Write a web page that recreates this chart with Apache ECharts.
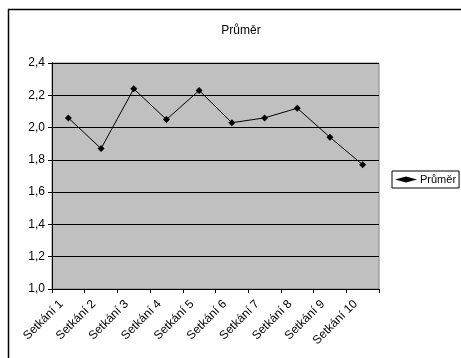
<!DOCTYPE html>
<html>
<head>
<meta charset="utf-8">
<script src="https://cdn.jsdelivr.net/npm/echarts@6/dist/echarts.min.js"></script>
<style>
  html, body { margin: 0; padding: 0; background: #fff; }
  #chart { width: 461px; height: 358px; }
</style>
</head>
<body>
<div id="chart"></div>
<script>
// Average rating per meeting
const categories = ['Setkání 1', 'Setkání 2', 'Setkání 3', 'Setkání 4', 'Setkání 5',
                    'Setkání 6', 'Setkání 7', 'Setkání 8', 'Setkání 9', 'Setkání 10'];
const averages = [2.06, 1.87, 2.24, 2.05, 2.23, 2.03, 2.06, 2.12, 1.94, 1.77];
const seriesName = 'Průměr';
const yMin = 1.0;
const yMax = 2.4;
const yStep = 0.2;

const FONT = 'Liberation Sans, Arial, sans-serif';
const chart = echarts.init(document.getElementById('chart'), null, { renderer: 'canvas' });

chart.setOption({
  animation: false,
  backgroundColor: '#ffffff',
  title: {
    text: seriesName,
    left: 236,
    top: 20,
    textAlign: 'center',
    textStyle: { fontFamily: FONT, fontSize: 12, fontWeight: 'normal', color: '#000' }
  },
  legend: {
    data: [{ name: seriesName, icon: 'diamond' }],
    left: 392,
    top: 171,
    orient: 'vertical',
    itemWidth: 22,
    itemHeight: 6,
    itemGap: 0,
    padding: [3, 3, 3, 3],
    borderColor: '#000',
    borderWidth: 1,
    textStyle: { fontFamily: FONT, fontSize: 11, color: '#000', padding: [0, 0, 0, -2] }
  },
  grid: {
    left: 52,
    right: 82,
    top: 63,
    bottom: 69,
    show: true,
    backgroundColor: '#c0c0c0',
    borderColor: '#808080',
    borderWidth: 1
  },
  xAxis: {
    type: 'category',
    data: categories,
    boundaryGap: true,
    axisLine: { lineStyle: { color: '#000', width: 1 } },
    axisTick: { show: true, inside: false, length: 4, alignWithLabel: false, lineStyle: { color: '#000' } },
    axisLabel: {
      rotate: 45,
      interval: 0,
      margin: 6,
      padding: [0, 10, 0, 0],
      fontFamily: FONT,
      fontSize: 12,
      color: '#000'
    },
    splitLine: { show: false }
  },
  yAxis: {
    type: 'value',
    min: yMin,
    max: yMax,
    interval: yStep,
    axisLine: { show: true, lineStyle: { color: '#000', width: 1 } },
    axisTick: { show: true, length: 4, lineStyle: { color: '#000' } },
    axisLabel: {
      margin: 7,
      fontFamily: FONT,
      fontSize: 12,
      color: '#000',
      formatter: v => v.toFixed(1).replace('.', ',')
    },
    splitLine: { show: true, lineStyle: { color: '#000', width: 1 } }
  },
  series: [{
    name: seriesName,
    type: 'line',
    data: averages,
    symbol: 'diamond',
    symbolSize: 7,
    itemStyle: { color: '#000' },
    lineStyle: { color: '#000', width: 1 },
    emphasis: { disabled: true }
  }],
  graphic: [{
    type: 'rect',
    shape: { x: 8.5, y: 9.5, width: 470, height: 370 },
    style: { fill: 'none', stroke: '#000', lineWidth: 1.5 },
    silent: true
  }]
});
</script>
</body>
</html>
